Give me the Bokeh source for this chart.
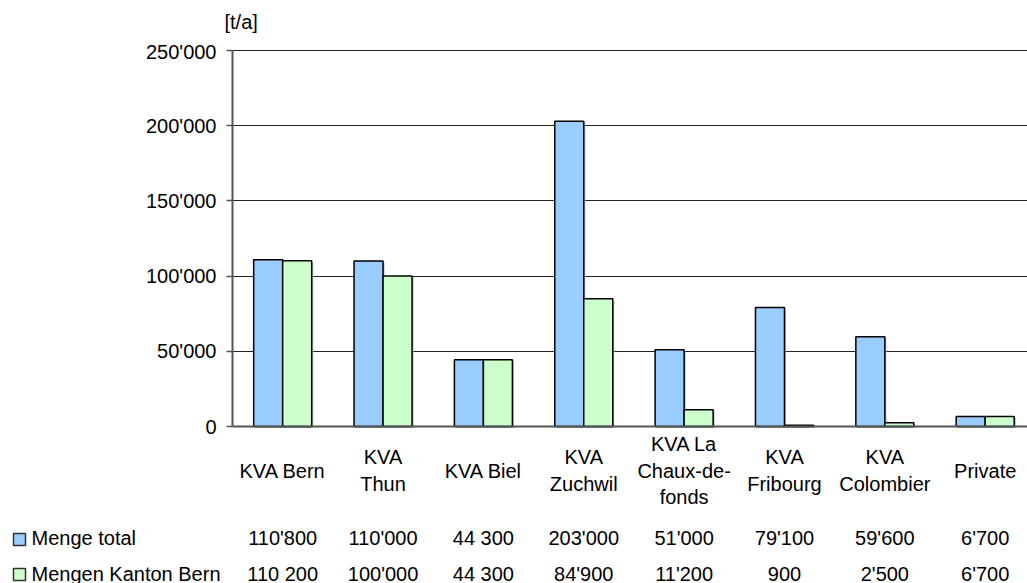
from bokeh.plotting import figure
from bokeh.layouts import column
from bokeh.models import (Range1d, FixedTicker, LinearAxis, Grid, ColumnDataSource, Span)
from bokeh.core.properties import value
from bokeh.transform import dodge
from bokeh.embed import file_html
from bokeh.resources import INLINE

# ---- data -------------------------------------------------------------
categories = ["KVA Bern", "KVA\nThun", "KVA Biel", "KVA\nZuchwil",
              "KVA La\nChaux-de-\nfonds", "KVA\nFribourg", "KVA\nColombier", "Private"]
series_names = ["Menge total", "Mengen Kanton Bern"]
menge_total = [110800, 110000, 44300, 203000, 51000, 79100, 59600, 6700]
menge_kanton = [110200, 100000, 44300, 84900, 11200, 900, 2500, 6700]
total_text = ["110'800", "110'000", "44 300", "203'000", "51'000", "79'100", "59'600", "6'700"]
kanton_text = ["110 200", "100'000", "44 300", "84'900", "11'200", "900", "2'500", "6'700"]
y_ticks = [0, 50000, 100000, 150000, 200000, 250000]
y_tick_labels = ["0", "50'000", "100'000", "150'000", "200'000", "250'000"]
unit_label = "[t/a]"

# ---- layout constants (pixels) ----------------------------------------
W, H = 1027, 583
HEAD = 40                        # strip holding the unit label
SPLIT = 515                      # chart above, data table below
FRAME_L = 232
TOP_PX, ZERO_PX = 50, 426
CAT_W = 100.36
BAR_W = 0.289
Y_MAX = y_ticks[-1]
PX_PER_UNIT = (ZERO_PX - TOP_PX) / Y_MAX
FONT = "Liberation Sans"
FS = "20px"
BLUE, GREEN = "#99CCFF", "#CCFFCC"


def y_at(py):
    return (ZERO_PX - py) / PX_PER_UNIT


def x_at(px):
    return (px - FRAME_L) / CAT_W


def strip(height, y0, y1):
    """A borderless full-width figure whose y range runs in page pixels."""
    f = figure(width=W, height=height, output_backend="svg", toolbar_location=None,
               x_range=Range1d(x_at(0), x_at(W)), y_range=Range1d(y1, y0),
               x_axis_location=None, y_axis_location=None,
               min_border_left=0, min_border_top=0, min_border_right=0, min_border_bottom=0,
               frame_align=False)
    f.outline_line_color = None
    f.xgrid.visible = False
    f.ygrid.visible = False
    return f


# ---- unit label ------------------------------------------------------------
head = strip(HEAD, 0, HEAD)
head.text(x=[x_at(224)], y=[21], text=[unit_label],
          text_align="left", text_baseline="middle",
          text_font=value(FONT), text_font_size=FS, text_color="black")

# ---- chart -------------------------------------------------------------
p = figure(width=W, height=SPLIT - HEAD, output_backend="svg", toolbar_location=None,
           x_range=Range1d(0, x_at(W)), y_range=Range1d(y_at(SPLIT), y_at(HEAD)),
           x_axis_location=None, y_axis_location=None,
           min_border_left=FRAME_L, min_border_top=0,
           min_border_right=0, min_border_bottom=0, frame_align=False)
p.outline_line_color = None
p.xgrid.visible = False
p.ygrid.visible = False

p.add_layout(Grid(dimension=1, ticker=FixedTicker(ticks=y_ticks[1:]),
                  grid_line_color="#222222", grid_line_width=1))

yaxis = LinearAxis(ticker=FixedTicker(ticks=y_ticks), bounds=(0, Y_MAX),
                   major_label_overrides={t: s for t, s in zip(y_ticks, y_tick_labels)},
                   axis_line_color="#555555", axis_line_width=2,
                   major_tick_line_color="#555555", major_tick_line_width=1.5,
                   major_tick_out=6, major_tick_in=0,
                   minor_tick_out=0, minor_tick_in=0,
                   major_label_standoff=10,
                   major_label_text_font=FONT, major_label_text_font_size=FS,
                   major_label_text_color="black")
p.add_layout(yaxis, "left")

centers = [i + 0.5 for i in range(len(categories))]
src = ColumnDataSource(dict(xc=centers, total=menge_total, kanton=menge_kanton))
shadow_dx = 1.5 / CAT_W
shadow_dy = -1.5 / PX_PER_UNIT
for field, off in (("total", -BAR_W / 2), ("kanton", BAR_W / 2)):
    p.vbar(x=dodge("xc", off + shadow_dx), top=dodge(field, shadow_dy), bottom=shadow_dy,
           width=BAR_W, source=src, fill_color="#b8b8b8", line_color=None)
p.vbar(x=dodge("xc", -BAR_W / 2), top="total", width=BAR_W, source=src,
       fill_color=BLUE, line_color="black", line_width=1.5)
p.vbar(x=dodge("xc", BAR_W / 2), top="kanton", width=BAR_W, source=src,
       fill_color=GREEN, line_color="black", line_width=1.5)

p.add_layout(Span(location=0, dimension="width", line_color="#555555", line_width=2))

# category labels, one entry per text line
LINE_H = 26.5
CAT_MID = 470
lx, ly, lt = [], [], []
for xc, cat in zip(centers, categories):
    lines = cat.split("\n")
    n = len(lines)
    for j, line in enumerate(lines):
        lx.append(xc)
        ly.append(y_at(CAT_MID + (j - (n - 1) / 2) * LINE_H))
        lt.append(line)
p.text(x="x", y="y", text="t", source=ColumnDataSource(dict(x=lx, y=ly, t=lt)),
       text_align="center", text_baseline="middle",
       text_font=value(FONT), text_font_size=FS, text_color="black")

# ---- data table ------------------------------------------------------------
t = strip(H - SPLIT, SPLIT, H)

ROW_Y = [537, 573]
KEY_Y = [539, 574]
rows_x, rows_y, rows_t = [], [], []
for ry, texts in zip(ROW_Y, (total_text, kanton_text)):
    rows_x += centers
    rows_y += [ry] * len(centers)
    rows_t += texts
t.text(x="x", y="y", text="t", source=ColumnDataSource(dict(x=rows_x, y=rows_y, t=rows_t)),
       text_align="center", text_baseline="middle",
       text_font=value(FONT), text_font_size=FS, text_color="black")

# series keys
t.scatter(x=[x_at(19)] * 2, y=KEY_Y, marker="square", size=12,
          fill_color=[BLUE, GREEN], line_color="#333333", line_width=1.5)
t.text(x=[x_at(31)] * 2, y=ROW_Y, text=series_names,
       text_align="left", text_baseline="middle",
       text_font=value(FONT), text_font_size=FS, text_color="black")

layout = column(head, p, t, spacing=0)
open("out.html", "w").write(file_html(layout, INLINE))
